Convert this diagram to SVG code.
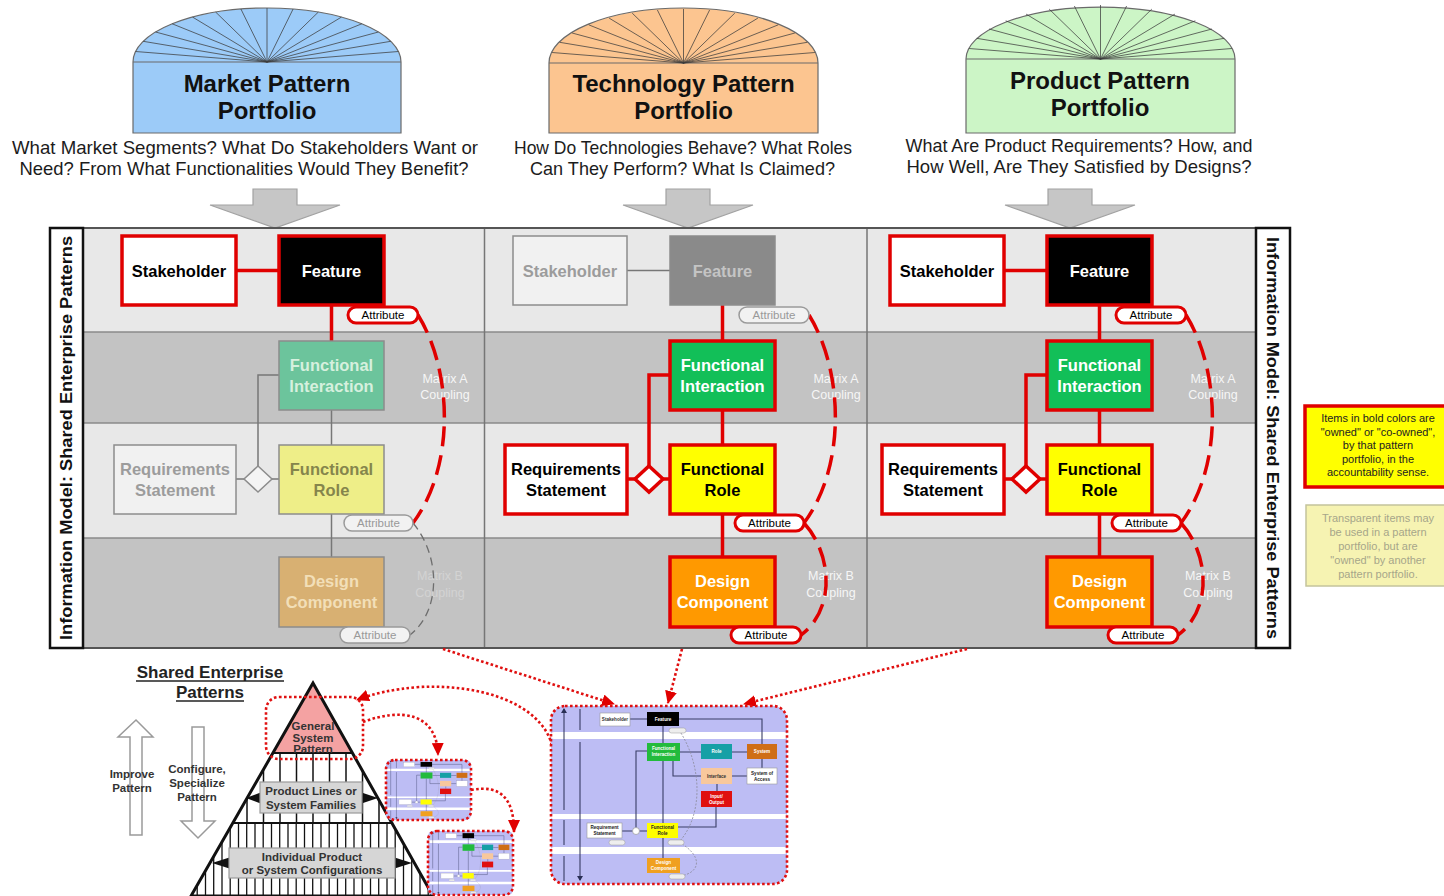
<svg xmlns="http://www.w3.org/2000/svg" xmlns:xlink="http://www.w3.org/1999/xlink" width="1444" height="896" viewBox="0 0 1444 896">
  <style>
    text { font-family: "Liberation Sans", Arial, sans-serif; }
    .title { font-size: 24px; font-weight: bold; fill: #111; text-anchor: middle; }
    .question { font-size: 18.5px; fill: #1c1c1c; text-anchor: middle; }
    .dome-edge { stroke: #6a6a6a; stroke-width: 1.2; }
    .ray { stroke: #3c3c3c; stroke-width: 1; stroke-opacity: 0.75; }
    .block-arrow { fill: #c6c6c6; stroke: #a2a2a2; stroke-width: 1.2; }
    .lbl { font-size: 16.5px; font-weight: bold; text-anchor: middle; }
    .side { font-size: 16.5px; font-weight: bold; fill: #111; text-anchor: middle; }
    .bold { stroke: #e00000; stroke-width: 3.5; }
    .faint { stroke: #8c8c8c; stroke-width: 1.5; }
    .pill-b { fill: #fff; stroke: #e00000; stroke-width: 3; }
    .pill-t { fill: #f2f2f2; stroke: #9a9a9a; stroke-width: 1.5; }
    .pill-txt { font-size: 11.5px; text-anchor: middle; }
    .wire-b { stroke: #e00000; stroke-width: 3.5; fill: none; }
    .wire-t { stroke: #777; stroke-width: 1.5; fill: none; }
    .arc-b { stroke: #e00000; stroke-width: 3.5; fill: none; stroke-dasharray: 20 9; }
    .arc-t { stroke: #6e6e6e; stroke-width: 1.3; fill: none; stroke-dasharray: 8 5; }
    .matrix { font-size: 12.5px; fill: #f6f6f6; text-anchor: middle; }
    .matrix-faint { font-size: 12.5px; fill: #d3d3d3; text-anchor: middle; }
    .dotted { stroke: #e01010; stroke-width: 2.6; fill: none; stroke-dasharray: 2.6 2.4; }
    .pyr-txt { font-size: 11.5px; font-weight: bold; fill: #333; text-anchor: middle; }
    .note { font-size: 11px; text-anchor: middle; }
    .mini-line { stroke: #3a3f66; stroke-width: 1.1; fill: none; }
    .mini-txt { font-size: 4.6px; font-weight: bold; text-anchor: middle; }
  </style>
  <defs>
    <!-- fan of rays inside a dome, relative to the dome base centre -->
    <g id="rays">
      <path class="ray" d="M0,0 L131.4,-10.5 M0,0 L123.8,-20.7 M0,0 L111.4,-30 M0,0 L94.8,-38.2 M0,0 L74.4,-44.9 M0,0 L51.3,-49.9 M0,0 L26.1,-53 M0,0 L0,-54 M0,0 L-26.1,-53 M0,0 L-51.3,-49.9 M0,0 L-74.4,-44.9 M0,0 L-94.8,-38.2 M0,0 L-111.4,-30 M0,0 L-123.8,-20.7 M0,0 L-131.4,-10.5"/>
    </g>
    <marker id="red-arrow" markerUnits="userSpaceOnUse" markerWidth="14" markerHeight="12" refX="12" refY="6" orient="auto">
      <path d="M0,0 L13,6 L0,12 Z" fill="#e00000"/>
    </marker>
    <marker id="mini-tip" markerUnits="userSpaceOnUse" markerWidth="6" markerHeight="6" refX="4" refY="3" orient="auto-start-reverse">
      <path d="M0,0 L5,3 L0,6 Z" fill="#2a2f55"/>
    </marker>
    <clipPath id="pyramid-clip">
      <polygon points="313,683 191,896 433,896"/>
    </clipPath>
    <!-- miniature information model, drawn in a 236 x 178 box -->
    <g id="mini-model">
      <rect x="0" y="0" width="236" height="178" rx="14" fill="#bdbdf4"/>
      <rect x="0" y="26" width="236" height="7" rx="3" fill="#fff"/>
      <rect x="0" y="108" width="236" height="5" rx="2" fill="#fff"/>
      <rect x="0" y="141" width="236" height="7" rx="3" fill="#fff"/>
      <path class="mini-line" d="M79,13 H96 M128,13 H211 V38 M112,20 V37 M112,55 V117 M112,132 V152 M129,46 H150 M181,46 H196 M96,45 H85 V121.5 M122,55 V70 H150 M181,70 H196 M211,53 V62 M166,78 V85 M165,101 V121 H127 M71,125 H81.5 M88.5,125 H96"/>
      <path d="M13,3 V104 M13,114 V139 M13,150 V175 M29,3 V24 M29,36 V174" stroke="#2a2f55" stroke-width="1" fill="none" marker-start="url(#mini-tip)" marker-end="url(#mini-tip)"/>
      <path d="M128,24 C152,60 152,110 128,136 M128,136 C152,150 150,166 130,170" stroke="#8a8a9a" stroke-width="0.8" fill="none" stroke-dasharray="2 1.5"/>
      <rect x="49" y="7" width="30" height="13" fill="#fff" stroke="#999" stroke-width="0.6"/>
      <rect x="96" y="6" width="32" height="14" fill="#000"/>
      <rect x="96" y="37" width="33" height="18" fill="#22bb3c"/>
      <rect x="150" y="38" width="31" height="15" fill="#16a0a6"/>
      <rect x="196" y="38" width="30" height="15" fill="#cf6e16"/>
      <rect x="150" y="62" width="31" height="16" fill="#f8c89c"/>
      <rect x="196" y="62" width="30" height="16" fill="#fff" stroke="#999" stroke-width="0.6"/>
      <rect x="150" y="85" width="31" height="16" fill="#e01010"/>
      <rect x="36" y="117" width="35" height="15" fill="#fff" stroke="#999" stroke-width="0.6"/>
      <circle cx="85" cy="125" r="3.5" fill="#fff" stroke="#888" stroke-width="0.6"/>
      <rect x="96" y="117" width="31" height="15" fill="#ffff00"/>
      <rect x="96" y="152" width="33" height="15" fill="#f0a020"/>
      <rect x="118" y="22" width="17" height="5" rx="2.5" fill="#eee" stroke="#999" stroke-width="0.5"/>
      <rect x="117" y="134" width="16" height="5" rx="2.5" fill="#eee" stroke="#999" stroke-width="0.5"/>
      <rect x="58" y="134" width="16" height="5" rx="2.5" fill="#eee" stroke="#999" stroke-width="0.5"/>
      <rect x="118" y="168" width="16" height="5" rx="2.5" fill="#eee" stroke="#999" stroke-width="0.5"/>
    </g>
  </defs>

  <rect width="1444" height="896" fill="#fff"/>

  <!-- portfolio domes -->
  <g id="market-portfolio">
    <path class="dome-edge" d="M133,62 A134,54 0 0 1 401,62 V133 H133 Z" fill="#9ccbf8"/>
    <line class="dome-edge" x1="133" y1="62" x2="401" y2="62"/>
    <use href="#rays" x="267" y="62"/>
    <text class="title" x="267" y="92">Market Pattern</text>
    <text class="title" x="267" y="119">Portfolio</text>
    <text class="question" x="245" y="154" textLength="466" lengthAdjust="spacingAndGlyphs">What Market Segments? What Do Stakeholders Want or</text>
    <text class="question" x="244" y="175" textLength="449" lengthAdjust="spacingAndGlyphs">Need? From What Functionalities Would They Benefit?</text>
    <path class="block-arrow" d="M253,189 H297 V205 H340 L275,228 L210,205 H253 Z"/>
  </g>
  <g id="technology-portfolio">
    <path class="dome-edge" d="M549,63 A134.5,55 0 0 1 818,63 V133 H549 Z" fill="#fcc590"/>
    <line class="dome-edge" x1="549" y1="63" x2="818" y2="63"/>
    <use href="#rays" x="683.5" y="63"/>
    <text class="title" x="683.5" y="92">Technology Pattern</text>
    <text class="title" x="683.5" y="119">Portfolio</text>
    <text class="question" x="683" y="154" textLength="338" lengthAdjust="spacingAndGlyphs">How Do Technologies Behave? What Roles</text>
    <text class="question" x="682.5" y="175" textLength="305" lengthAdjust="spacingAndGlyphs">Can They Perform? What Is Claimed?</text>
    <path class="block-arrow" d="M666,189 H710 V205 H753 L688,228 L623,205 H666 Z"/>
  </g>
  <g id="product-portfolio">
    <path class="dome-edge" d="M966,59 A134.5,52 0 0 1 1235,59 V133 H966 Z" fill="#ccf5c6"/>
    <line class="dome-edge" x1="966" y1="59" x2="1235" y2="59"/>
    <use href="#rays" x="1100.5" y="59"/>
    <text class="title" x="1100" y="89">Product Pattern</text>
    <text class="title" x="1100" y="116">Portfolio</text>
    <text class="question" x="1079" y="152" textLength="347" lengthAdjust="spacingAndGlyphs">What Are Product Requirements? How, and</text>
    <text class="question" x="1079" y="173" textLength="345" lengthAdjust="spacingAndGlyphs">How Well, Are They Satisfied by Designs?</text>
    <path class="block-arrow" d="M1048,189 H1092 V205 H1135 L1070,228 L1005,205 H1048 Z"/>
  </g>

  <!-- shared information model frame -->
  <g id="model-frame">
    <rect x="83" y="228" width="1173" height="104" fill="#e8e8e8"/>
    <rect x="83" y="332" width="1173" height="91" fill="#c3c3c3"/>
    <rect x="83" y="423" width="1173" height="115" fill="#e8e8e8"/>
    <rect x="83" y="538" width="1173" height="110" fill="#c3c3c3"/>
    <path d="M83,332 H1256 M83,423 H1256 M83,538 H1256" stroke="#8a8a8a" stroke-width="1.5"/>
    <path d="M484.5,228 V648 M867,228 V648" stroke="#767676" stroke-width="1.5"/>
    <rect x="50" y="228" width="1240" height="420" fill="none" stroke="#555" stroke-width="2"/>
  </g>
  <g id="label-left">
    <rect x="50" y="228" width="33" height="420" fill="#fff" stroke="#111" stroke-width="2.5"/>
    <text class="side" transform="translate(72,438) rotate(-90)" textLength="404" lengthAdjust="spacingAndGlyphs">Information Model:  Shared Enterprise Patterns</text>
  </g>
  <g id="label-right">
    <rect x="1256" y="228" width="34" height="420" fill="#fff" stroke="#111" stroke-width="2.5"/>
    <text class="side" transform="translate(1267,438) rotate(90)" textLength="402" lengthAdjust="spacingAndGlyphs">Information Model:  Shared Enterprise Patterns</text>
  </g>

  <!-- coupling matrix captions -->
  <g id="matrix-labels">
    <text class="matrix" x="445" y="383">Matrix A</text>
    <text class="matrix" x="445" y="399">Coupling</text>
    <text class="matrix-faint" x="440" y="580">Matrix B</text>
    <text class="matrix-faint" x="440" y="597">Coupling</text>
    <text class="matrix" x="836" y="383">Matrix A</text>
    <text class="matrix" x="836" y="399">Coupling</text>
    <text class="matrix" x="831" y="580">Matrix B</text>
    <text class="matrix" x="831" y="597">Coupling</text>
    <text class="matrix" x="1213" y="383">Matrix A</text>
    <text class="matrix" x="1213" y="399">Coupling</text>
    <text class="matrix" x="1208" y="580">Matrix B</text>
    <text class="matrix" x="1208" y="597">Coupling</text>
  </g>

  <!-- connectors -->
  <g id="connectors">
    <g id="market-links">
      <path class="wire-b" d="M236,270.5 H279 M331.5,305 V341"/>
      <path class="wire-t" d="M331.5,410 V445 M331.5,514 V557 M236,479 H244 M272,479 H279 M258,466 V375 H279"/>
      <path class="arc-b" d="M418,315 C452,370 456,465 413,523"/>
      <path class="arc-t" d="M413,523 C440,555 442,610 410,635"/>
    </g>
    <g id="technology-links" transform="translate(391,0)">
      <path class="wire-t" d="M236,270.5 H279"/>
      <path class="wire-b" d="M331.5,305 V341 M331.5,410 V445 M331.5,514 V557 M236,479 H244 M272,479 H279 M258,466 V375 H279"/>
      <path class="arc-b" d="M418,315 C452,370 456,465 413,523"/>
      <path class="arc-b" d="M413,523 C442,555 444,610 410,635"/>
    </g>
    <g id="product-links" transform="translate(768,0)">
      <path class="wire-b" d="M236,270.5 H279 M331.5,305 V341 M331.5,410 V445 M331.5,514 V557 M236,479 H244 M272,479 H279 M258,466 V375 H279"/>
      <path class="arc-b" d="M418,315 C452,370 456,465 413,523"/>
      <path class="arc-b" d="M413,523 C442,555 444,610 410,635"/>
    </g>
    <g id="portfolio-links">
      <path class="dotted" d="M443,649 L614,704" marker-end="url(#red-arrow)"/>
      <path class="dotted" d="M682,649 L668,703" marker-end="url(#red-arrow)"/>
      <path class="dotted" d="M967,649 L744,704" marker-end="url(#red-arrow)"/>
      <path class="dotted" d="M552,745 C540,702 478,684 420,687 C392,689 372,694 357,700" marker-end="url(#red-arrow)"/>
      <path class="dotted" d="M363,722 C400,708 437,712 438,755" marker-end="url(#red-arrow)"/>
      <path class="dotted" d="M471,790 C502,784 514,800 514,832" marker-end="url(#red-arrow)"/>
    </g>
  </g>

  <!-- market column nodes -->
  <g id="market-nodes">
    <g id="m-stakeholder"><rect class="bold" x="122" y="236" width="114" height="69" fill="#fff"/><text class="lbl" x="179" y="276.5" fill="#000">Stakeholder</text></g>
    <g id="m-feature"><rect class="bold" x="279" y="236" width="105" height="69" fill="#000"/><text class="lbl" x="331.5" y="276.5" fill="#fff">Feature</text></g>
    <g id="m-feature-attr"><rect class="pill-b" x="348" y="307" width="70" height="16" rx="8"/><text class="pill-txt" x="383" y="319" fill="#000">Attribute</text></g>
    <g id="m-interaction"><rect class="faint" x="279" y="341" width="105" height="69" fill="#6cc49c"/><text class="lbl" x="331.5" y="371" fill="#d6f0de">Functional</text><text class="lbl" x="331.5" y="392" fill="#d6f0de">Interaction</text></g>
    <g id="m-requirements"><rect class="faint" x="114" y="445" width="122" height="69" fill="#f1f1f1"/><text class="lbl" x="175" y="475" fill="#9c9c9c">Requirements</text><text class="lbl" x="175" y="496" fill="#9c9c9c">Statement</text></g>
    <g id="m-diamond"><polygon class="faint" points="258,466 272,479 258,492 244,479" fill="#f4f4f4"/></g>
    <g id="m-role"><rect class="faint" x="279" y="445" width="105" height="69" fill="#eeee88"/><text class="lbl" x="331.5" y="475" fill="#85854c">Functional</text><text class="lbl" x="331.5" y="496" fill="#85854c">Role</text></g>
    <g id="m-role-attr"><rect class="pill-t" x="344" y="515" width="69" height="16" rx="8"/><text class="pill-txt" x="378.5" y="527" fill="#999">Attribute</text></g>
    <g id="m-design"><rect class="faint" x="279" y="557" width="105" height="70" fill="#d8b072"/><text class="lbl" x="331.5" y="587" fill="#f2dfb8">Design</text><text class="lbl" x="331.5" y="608" fill="#f2dfb8">Component</text></g>
    <g id="m-design-attr"><rect class="pill-t" x="340" y="627" width="70" height="16" rx="8"/><text class="pill-txt" x="375" y="639" fill="#999">Attribute</text></g>
  </g>

  <!-- technology column nodes -->
  <g id="technology-nodes" transform="translate(391,0)">
    <g id="t-stakeholder"><rect class="faint" x="122" y="236" width="114" height="69" fill="#f1f1f1"/><text class="lbl" x="179" y="276.5" fill="#9c9c9c">Stakeholder</text></g>
    <g id="t-feature"><rect class="faint" x="279" y="236" width="105" height="69" fill="#8a8a8a" stroke="#6a6a6a"/><text class="lbl" x="331.5" y="276.5" fill="#c4c4c4">Feature</text></g>
    <g id="t-feature-attr"><rect class="pill-t" x="348" y="307" width="70" height="16" rx="8"/><text class="pill-txt" x="383" y="319" fill="#999">Attribute</text></g>
    <g id="t-interaction"><rect class="bold" x="279" y="341" width="105" height="69" fill="#12bf58"/><text class="lbl" x="331.5" y="371" fill="#fff">Functional</text><text class="lbl" x="331.5" y="392" fill="#fff">Interaction</text></g>
    <g id="t-requirements"><rect class="bold" x="114" y="445" width="122" height="69" fill="#fff"/><text class="lbl" x="175" y="475" fill="#000">Requirements</text><text class="lbl" x="175" y="496" fill="#000">Statement</text></g>
    <g id="t-diamond"><polygon class="bold" points="258,466 272,479 258,492 244,479" fill="#fff"/></g>
    <g id="t-role"><rect class="bold" x="279" y="445" width="105" height="69" fill="#ffff00"/><text class="lbl" x="331.5" y="475" fill="#000">Functional</text><text class="lbl" x="331.5" y="496" fill="#000">Role</text></g>
    <g id="t-role-attr"><rect class="pill-b" x="344" y="515" width="69" height="16" rx="8"/><text class="pill-txt" x="378.5" y="527" fill="#000">Attribute</text></g>
    <g id="t-design"><rect class="bold" x="279" y="557" width="105" height="70" fill="#ff9900"/><text class="lbl" x="331.5" y="587" fill="#fff">Design</text><text class="lbl" x="331.5" y="608" fill="#fff">Component</text></g>
    <g id="t-design-attr"><rect class="pill-b" x="340" y="627" width="70" height="16" rx="8"/><text class="pill-txt" x="375" y="639" fill="#000">Attribute</text></g>
  </g>

  <!-- product column nodes -->
  <g id="product-nodes" transform="translate(768,0)">
    <g id="p-stakeholder"><rect class="bold" x="122" y="236" width="114" height="69" fill="#fff"/><text class="lbl" x="179" y="276.5" fill="#000">Stakeholder</text></g>
    <g id="p-feature"><rect class="bold" x="279" y="236" width="105" height="69" fill="#000"/><text class="lbl" x="331.5" y="276.5" fill="#fff">Feature</text></g>
    <g id="p-feature-attr"><rect class="pill-b" x="348" y="307" width="70" height="16" rx="8"/><text class="pill-txt" x="383" y="319" fill="#000">Attribute</text></g>
    <g id="p-interaction"><rect class="bold" x="279" y="341" width="105" height="69" fill="#12bf58"/><text class="lbl" x="331.5" y="371" fill="#fff">Functional</text><text class="lbl" x="331.5" y="392" fill="#fff">Interaction</text></g>
    <g id="p-requirements"><rect class="bold" x="114" y="445" width="122" height="69" fill="#fff"/><text class="lbl" x="175" y="475" fill="#000">Requirements</text><text class="lbl" x="175" y="496" fill="#000">Statement</text></g>
    <g id="p-diamond"><polygon class="bold" points="258,466 272,479 258,492 244,479" fill="#fff"/></g>
    <g id="p-role"><rect class="bold" x="279" y="445" width="105" height="69" fill="#ffff00"/><text class="lbl" x="331.5" y="475" fill="#000">Functional</text><text class="lbl" x="331.5" y="496" fill="#000">Role</text></g>
    <g id="p-role-attr"><rect class="pill-b" x="344" y="515" width="69" height="16" rx="8"/><text class="pill-txt" x="378.5" y="527" fill="#000">Attribute</text></g>
    <g id="p-design"><rect class="bold" x="279" y="557" width="105" height="70" fill="#ff9900"/><text class="lbl" x="331.5" y="587" fill="#fff">Design</text><text class="lbl" x="331.5" y="608" fill="#fff">Component</text></g>
    <g id="p-design-attr"><rect class="pill-b" x="340" y="627" width="70" height="16" rx="8"/><text class="pill-txt" x="375" y="639" fill="#000">Attribute</text></g>
  </g>

  <!-- legend notes -->
  <g id="note-owned">
    <rect x="1305" y="406" width="146" height="81" fill="#ffff00" stroke="#e00000" stroke-width="3.5"/>
    <text class="note" x="1378" y="422" fill="#222">Items in bold colors are</text>
    <text class="note" x="1378" y="435.5" fill="#222">"owned"  or "co-owned",</text>
    <text class="note" x="1378" y="449" fill="#222">by that pattern</text>
    <text class="note" x="1378" y="462.5" fill="#222">portfolio, in the</text>
    <text class="note" x="1378" y="476" fill="#222">accountability sense.</text>
  </g>
  <g id="note-transparent">
    <rect x="1306" y="505" width="145" height="81" fill="#f6f3b2" stroke="#c4c49c" stroke-width="1.5"/>
    <text class="note" x="1378" y="522" fill="#a6a68a">Transparent items may</text>
    <text class="note" x="1378" y="536" fill="#a6a68a">be used in a pattern</text>
    <text class="note" x="1378" y="550" fill="#a6a68a">portfolio, but are</text>
    <text class="note" x="1378" y="564" fill="#a6a68a">"owned" by another</text>
    <text class="note" x="1378" y="578" fill="#a6a68a">pattern portfolio.</text>
  </g>

  <!-- enterprise pattern pyramid -->
  <g id="pyramid-heading">
    <text x="210" y="678" font-size="17" font-weight="bold" fill="#222" text-anchor="middle">Shared Enterprise</text>
    <line x1="136" y1="681" x2="284" y2="681" stroke="#222" stroke-width="1.5"/>
    <text x="210" y="698" font-size="17" font-weight="bold" fill="#222" text-anchor="middle">Patterns</text>
    <line x1="176" y1="701" x2="244" y2="701" stroke="#222" stroke-width="1.5"/>
  </g>
  <g id="improve-arrow">
    <path d="M136,720 L153,737 H142 V835 H130 V737 H118 Z" fill="#fff" stroke="#9a9a9a" stroke-width="1.5"/>
    <text class="pyr-txt" x="132" y="778">Improve</text>
    <text class="pyr-txt" x="132" y="792">Pattern</text>
  </g>
  <g id="configure-arrow">
    <path d="M192,727 H204 V821 H215 L198,838 L181,821 H192 Z" fill="#fff" stroke="#9a9a9a" stroke-width="1.5"/>
    <text class="pyr-txt" x="197" y="773">Configure,</text>
    <text class="pyr-txt" x="197" y="787">Specialize</text>
    <text class="pyr-txt" x="197" y="801">Pattern</text>
  </g>
  <g id="pyramid">
    <polygon points="313,683 191,896 433,896" fill="#fff"/>
    <polygon points="313,683 272.9,753 352.4,753" fill="#f4a2a2"/>
    <g clip-path="url(#pyramid-clip)" stroke="#111">
      <path stroke-width="1.5" d="M247,753 V823 M263.5,753 V823 M280,753 V823 M296.5,753 V823 M313,753 V823 M329.5,753 V823 M346,753 V823 M362.5,753 V823 M379,753 V823"/>
      <path stroke-width="1.3" d="M189,823 V896 M197.2,823 V896 M205.5,823 V896 M213.7,823 V896 M222,823 V896 M230.2,823 V896 M238.5,823 V896 M246.7,823 V896 M255,823 V896 M263.2,823 V896 M271.5,823 V896 M279.7,823 V896 M288,823 V896 M296.2,823 V896 M304.5,823 V896 M312.7,823 V896 M321,823 V896 M329.2,823 V896 M337.5,823 V896 M345.7,823 V896 M354,823 V896 M362.2,823 V896 M370.5,823 V896 M378.7,823 V896 M387,823 V896 M395.2,823 V896 M403.5,823 V896 M411.7,823 V896 M420,823 V896 M428.2,823 V896 M436.5,823 V896"/>
      <path stroke-width="2.2" d="M180,753 H450 M180,823 H450"/>
    </g>
    <polygon points="313,683 191,896 433,896" fill="none" stroke="#111" stroke-width="3"/>
  </g>
  <g id="general-pattern">
    <rect class="dotted" x="266" y="697" width="97" height="62" rx="13"/>
    <text class="pyr-txt" x="313" y="730">General</text>
    <text class="pyr-txt" x="313" y="741.5">System</text>
    <text class="pyr-txt" x="313" y="753">Pattern</text>
  </g>
  <g id="product-lines">
    <polygon points="262,792 262,804 246,798" fill="#111"/>
    <polygon points="360,792 360,804 378,798" fill="#111"/>
    <rect x="260" y="782" width="102" height="31" fill="#d6d6d6" stroke="#9a9a9a" stroke-width="1.2"/>
    <text class="pyr-txt" x="311" y="795">Product Lines or</text>
    <text class="pyr-txt" x="311" y="808.5">System Families</text>
  </g>
  <g id="configurations">
    <polygon points="231,857 231,869 212,863" fill="#111"/>
    <polygon points="393,857 393,869 412,863" fill="#111"/>
    <rect x="229" y="848" width="166" height="30" fill="#d6d6d6" stroke="#9a9a9a" stroke-width="1.2"/>
    <text class="pyr-txt" x="312" y="860.5">Individual Product</text>
    <text class="pyr-txt" x="312" y="874">or System Configurations</text>
  </g>

  <!-- product line and configuration instances -->
  <g id="family-model">
    <use href="#mini-model" transform="translate(386,760) scale(0.36,0.337)"/>
    <rect class="dotted" x="386" y="760" width="85" height="60" rx="9"/>
  </g>
  <g id="configuration-model">
    <use href="#mini-model" transform="translate(428,831) scale(0.36,0.36)"/>
    <rect class="dotted" x="428" y="831" width="85" height="64" rx="9"/>
  </g>
  <g id="general-model" transform="translate(551,706)">
    <use href="#mini-model"/>
    <text class="mini-txt" x="64" y="15" fill="#333">Stakeholder</text>
    <text class="mini-txt" x="112" y="15" fill="#fff">Feature</text>
    <text class="mini-txt" x="112.5" y="44" fill="#fff">Functional</text>
    <text class="mini-txt" x="112.5" y="50" fill="#fff">Interaction</text>
    <text class="mini-txt" x="165.5" y="47" fill="#fff">Role</text>
    <text class="mini-txt" x="211" y="47" fill="#fff">System</text>
    <text class="mini-txt" x="165.5" y="71.5" fill="#333">Interface</text>
    <text class="mini-txt" x="211" y="69" fill="#222">System of</text>
    <text class="mini-txt" x="211" y="74.5" fill="#222">Access</text>
    <text class="mini-txt" x="165.5" y="92" fill="#fff">Input/</text>
    <text class="mini-txt" x="165.5" y="97.5" fill="#fff">Output</text>
    <text class="mini-txt" x="53.5" y="123" fill="#222">Requirement</text>
    <text class="mini-txt" x="53.5" y="129" fill="#222">Statement</text>
    <text class="mini-txt" x="111.5" y="123" fill="#222">Functional</text>
    <text class="mini-txt" x="111.5" y="129" fill="#222">Role</text>
    <text class="mini-txt" x="112.5" y="158" fill="#fff">Design</text>
    <text class="mini-txt" x="112.5" y="164" fill="#fff">Component</text>
    <rect class="dotted" x="0" y="0" width="236" height="178" rx="14"/>
  </g>
</svg>
